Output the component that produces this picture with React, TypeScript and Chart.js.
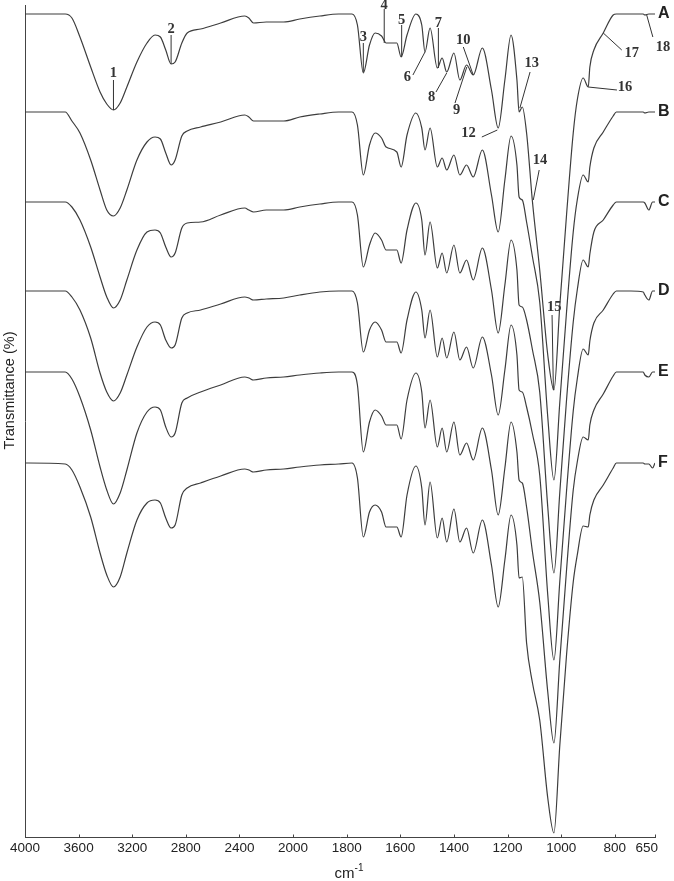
import React, { useEffect, useRef } from 'react';
import { Chart, registerables } from 'chart.js';

Chart.register(...registerables);

// Wavenumber grid (cm-1) shared by all spectra
const wavenumbers = [
  4000, 3700, 3650, 3590, 3510, 3440, 3390, 3340, 3290, 3240,
  3165, 3090, 3030, 2990, 2950, 2910, 2880, 2830, 2790, 2690,
  2540, 2360, 2330, 2295, 2200, 2070, 1975, 1900, 1830, 1780,
  1760, 1738, 1715, 1694, 1670, 1653, 1613, 1597, 1575, 1542,
  1520, 1508, 1489, 1462, 1444, 1427, 1400, 1378, 1353, 1328,
  1294, 1260, 1235, 1210, 1187, 1165, 1157, 1145, 1129, 1107,
  1080, 1050, 1027, 1005, 980, 955, 940, 918, 899, 893,
  878, 843, 806, 794, 740, 694, 688, 673, 659, 650,
];

// Transmittance (offset, arbitrary units) of each spectrum
const spectrumA = [
  826, 826, 822, 803, 773, 748, 736, 730, 737, 753,
  778, 797, 805, 803, 790, 776, 778, 797, 807, 811,
  817, 824, 822, 817, 818, 818, 821, 824, 826, 826,
  815, 767, 795, 807, 804, 797, 797, 783, 805, 826,
  815, 788, 812, 772, 782, 768, 787, 760, 775, 765,
  792, 750, 712, 760, 805, 760, 728, 733, 707, 638,
  570, 485, 450, 535, 625, 707, 740, 762, 753, 773,
  790, 807, 825, 826, 826, 826, 825, 826, 826, 826,
];
const spectrumB = [
  728, 728, 719, 707, 680, 650, 630, 624, 632, 650,
  680, 698, 703, 701, 687, 675, 680, 704, 709, 713,
  718, 725, 723, 719, 719, 719, 723, 726, 728, 728,
  715, 665, 695, 707, 702, 693, 688, 673, 705, 727,
  712, 690, 712, 673, 682, 670, 685, 665, 675, 663,
  690, 645, 608, 660, 704, 675, 643, 640, 618, 583,
  538, 423, 360, 438, 528, 608, 640, 665, 658, 673,
  692, 708, 724, 728, 728, 728, 727, 728, 728, 728,
];
const spectrumC = [
  638, 638, 633, 620, 593, 563, 543, 532, 540, 560,
  590, 608, 610, 607, 593, 583, 587, 612, 617, 618,
  625, 632, 630, 628, 630, 630, 633, 636, 638, 638,
  625, 573, 595, 607, 600, 590, 590, 577, 610, 637,
  620, 585, 618, 572, 587, 567, 595, 567, 580, 560,
  592, 550, 507, 555, 600, 570, 535, 533, 520, 490,
  448, 333, 267, 348, 440, 518, 550, 580, 573, 586,
  608, 620, 635, 638, 638, 638, 637, 630, 638, 638,
];
const spectrumD = [
  549, 549, 543, 530, 502, 467, 448, 439, 447, 465,
  493, 513, 518, 515, 500, 492, 495, 522, 527, 530,
  536, 543, 542, 540, 541, 542, 545, 548, 549, 549,
  537, 488, 510, 518, 510, 498, 498, 487, 520, 548,
  530, 502, 530, 483, 502, 482, 508, 480, 493, 472,
  503, 465, 425, 470, 515, 485, 450, 448, 433, 406,
  365, 245, 180, 259, 349, 429, 461, 491, 485, 499,
  517, 530, 546, 549, 549, 548, 545, 540, 549, 549,
];
const spectrumE = [
  468, 468, 461, 443, 410, 373, 350, 336, 347, 370,
  407, 428, 433, 430, 413, 403, 407, 437, 442, 448,
  455, 463, 462, 460, 462, 463, 465, 467, 468, 468,
  455, 388, 418, 430, 424, 415, 415, 401, 440, 467,
  448, 412, 440, 393, 412, 388, 418, 385, 397, 380,
  412, 370, 325, 372, 418, 388, 360, 357, 333, 288,
  238, 148, 97, 180, 270, 350, 378, 403, 400, 415,
  430, 446, 464, 468, 468, 468, 465, 463, 468, 468,
];
const spectrumF = [
  377, 376, 370, 353, 323, 287, 265, 253, 263, 287,
  320, 337, 340, 337, 322, 312, 315, 345, 352, 357,
  364, 371, 370, 368, 370, 371, 373, 375, 376, 377,
  362, 303, 328, 335, 328, 313, 313, 303, 345, 374,
  352, 315, 358, 302, 322, 298, 331, 298, 312, 287,
  320, 275, 233, 280, 325, 295, 262, 263, 197, 157,
  120, 42, 7, 95, 185, 258, 285, 314, 313, 325,
  340, 355, 372, 377, 377, 377, 376, 376, 372, 377,
];

const seriesNames = ['A', 'B', 'C', 'D', 'E', 'F'];
const seriesValues = [spectrumA, spectrumB, spectrumC, spectrumD, spectrumE, spectrumF];

// x-axis ticks (cm-1)
const tickWavenumbers = [4000, 3600, 3200, 2800, 2400, 2000, 1800, 1600, 1400, 1200, 1000, 800, 650];
const tickLabels = ['4000', '3600', '3200', '2800', '2400', '2000', '1800', '1600', '1400', '1200', '1000', '800', '650'];

// Band annotations on spectrum A
const bandNumbers = ['1', '2', '3', '4', '5', '6', '7', '8', '9', '10', '12', '13', '14', '15', '16', '17', '18'];
const bandLabelWn = [3340, 2910, 1738, 1660, 1595, 1574, 1458, 1483, 1390, 1365, 1346, 1110, 1079, 1026, 762, 737, 620];
const bandLabelT = [767, 811, 803, 835, 820, 763, 817, 743, 730, 800, 707, 777, 680, 533, 753, 787, 793];
const leaderFromWn = [3340, 2910, 1738, 1660, 1595, 1553, 1458, 1467, 1396, 1365, 1296, 1116, 1082, 1034, 899, 843, 681];
const leaderFromT = [760, 805, 797, 831, 815, 765, 812, 748, 737, 793, 703, 768, 670, 525, 753, 807, 825];
const leaderToWn = [3340, 2910, 1738, 1660, 1595, 1508, 1458, 1427, 1352, 1328, 1238, 1154, 1104, 1029, 792, 774, 658];
const leaderToT = [730, 776, 768, 797, 783, 788, 772, 767, 773, 765, 710, 732, 640, 450, 750, 790, 803];

// Axis with a 2x expanded region below 2000 cm-1 (as on the spectrometer print-out)
function toAxis(w: number): number {
  return w >= 2000 ? (4000 - w) / 400 : 5 + (2000 - w) / 200;
}

const LINE_COLOR = '#3d3d3d';
const TEXT_COLOR = '#222222';

const decorPlugin = {
  id: 'decor',
  afterDraw(chart: any) {
    const { ctx, chartArea, scales } = chart;
    const xs = scales.x;
    const ys = scales.y;
    ctx.save();

    // x ticks and labels
    ctx.strokeStyle = '#444';
    ctx.lineWidth = 1;
    ctx.fillStyle = TEXT_COLOR;
    ctx.font = '13.5px "Liberation Sans", Arial, sans-serif';
    ctx.textBaseline = 'middle';
    tickWavenumbers.forEach((w, i) => {
      const px = xs.getPixelForValue(toAxis(w));
      const rx = Math.round(px) + 0.5;
      ctx.beginPath();
      ctx.moveTo(rx, chartArea.bottom);
      ctx.lineTo(rx, chartArea.bottom - 3);
      ctx.stroke();
      const last = i === tickWavenumbers.length - 1;
      ctx.textAlign = last ? 'right' : 'center';
      ctx.fillText(tickLabels[i], last ? px + 3 : px, chartArea.bottom + 11);
    });

    // x title: cm-1
    ctx.font = '15px "Liberation Sans", Arial, sans-serif';
    const w1 = ctx.measureText('cm').width;
    ctx.font = '10px "Liberation Sans", Arial, sans-serif';
    const w2 = ctx.measureText('-1').width;
    const cx = (chartArea.left + chartArea.right) / 2 + 9;
    const startX = cx - (w1 + w2) / 2;
    ctx.textAlign = 'left';
    ctx.textBaseline = 'alphabetic';
    ctx.font = '15px "Liberation Sans", Arial, sans-serif';
    ctx.fillText('cm', startX, chartArea.bottom + 40);
    ctx.font = '10px "Liberation Sans", Arial, sans-serif';
    ctx.fillText('-1', startX + w1, chartArea.bottom + 33);

    // y title
    ctx.save();
    ctx.translate(10, chartArea.top + (chartArea.bottom - chartArea.top) * 0.463);
    ctx.rotate(-Math.PI / 2);
    ctx.font = '14.5px "Liberation Sans", Arial, sans-serif';
    ctx.textAlign = 'center';
    ctx.textBaseline = 'middle';
    ctx.fillText('Transmittance (%)', 0, 0);
    ctx.restore();

    // series letters
    ctx.font = 'bold 16px "Liberation Sans", Arial, sans-serif';
    ctx.textAlign = 'left';
    ctx.textBaseline = 'middle';
    seriesNames.forEach((name, i) => {
      const vals = seriesValues[i];
      const py = ys.getPixelForValue(vals[vals.length - 1]);
      ctx.fillText(name, chartArea.right + 3, py);
    });

    // band annotations
    ctx.strokeStyle = '#333';
    ctx.lineWidth = 1;
    bandNumbers.forEach((_, i) => {
      ctx.beginPath();
      ctx.moveTo(xs.getPixelForValue(toAxis(leaderFromWn[i])), ys.getPixelForValue(leaderFromT[i]));
      ctx.lineTo(xs.getPixelForValue(toAxis(leaderToWn[i])), ys.getPixelForValue(leaderToT[i]));
      ctx.stroke();
    });
    ctx.font = 'bold 14.5px "Liberation Serif", "Times New Roman", serif';
    ctx.fillStyle = '#333';
    ctx.textAlign = 'center';
    ctx.textBaseline = 'middle';
    bandNumbers.forEach((label, i) => {
      ctx.fillText(label, xs.getPixelForValue(toAxis(bandLabelWn[i])), ys.getPixelForValue(bandLabelT[i]));
    });

    ctx.restore();
  },
};

export default function App() {
  const canvasRef = useRef<HTMLCanvasElement | null>(null);

  useEffect(() => {
    if (!canvasRef.current) return;
    const datasets = seriesNames.map((name, i) => ({
      label: name,
      data: wavenumbers.map((w, j) => ({ x: toAxis(w), y: seriesValues[i][j] })),
      borderColor: LINE_COLOR,
      borderWidth: 1.2,
      pointRadius: 0,
      fill: false,
      tension: 0.3,
      cubicInterpolationMode: 'monotone' as const,
    }));

    const chart = new Chart(canvasRef.current, {
      type: 'line',
      data: { datasets },
      options: {
        responsive: false,
        animation: false,
        events: [],
        layout: { padding: { left: 0, right: 19, top: 5, bottom: 0 } },
        plugins: {
          legend: { display: false },
          title: { display: false },
          tooltip: { enabled: false },
        },
        scales: {
          x: {
            type: 'linear',
            min: 0,
            max: toAxis(650),
            ticks: { display: false },
            grid: { display: false },
            border: { display: true, color: '#444', width: 1 },
            afterFit: (scale: any) => {
              scale.height = 43.5;
            },
          },
          y: {
            type: 'linear',
            min: 2.5,
            max: 835,
            ticks: { display: false },
            grid: { display: false },
            border: { display: true, color: '#444', width: 1 },
            afterFit: (scale: any) => {
              scale.width = 25;
            },
          },
        },
      },
      plugins: [decorPlugin],
    });
    return () => chart.destroy();
  }, []);

  return (
    <div style={{ position: 'absolute', left: 0, top: 0, width: 674, height: 881, background: '#fff' }}>
      <canvas ref={canvasRef} width={674} height={881} />
    </div>
  );
}
